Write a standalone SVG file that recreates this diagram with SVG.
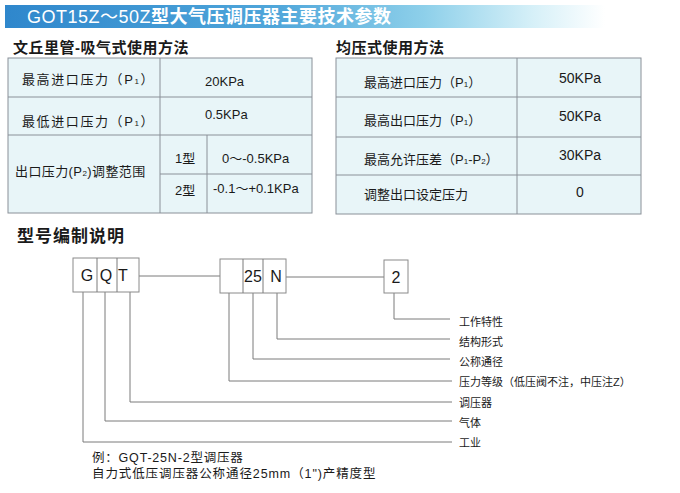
<svg xmlns="http://www.w3.org/2000/svg" width="680" height="493" viewBox="0 0 680 493">
<defs>
<linearGradient id="tb" x1="0" y1="0" x2="1" y2="0">
<stop offset="0" stop-color="#2f87cc"/>
<stop offset="0.45" stop-color="#4fa6da"/>
<stop offset="0.7" stop-color="#8ed0ea"/>
<stop offset="0.88" stop-color="#d6f0f8"/>
<stop offset="1" stop-color="#ffffff"/>
</linearGradient>
</defs>
<style>
text{font-family:"Liberation Sans","Noto Sans CJK SC",sans-serif;fill:#1a1a1a}
.h{font-weight:bold;font-size:15px;letter-spacing:0.5px}
.t{font-size:13px}
.v{font-size:14px}
.sub{font-size:8px}
.tbl{fill:#e8f5f8;stroke:#8a9098;stroke-width:1}
.ln{stroke:#8a9098;stroke-width:1;fill:none}
.box{fill:#ffffff;stroke:#8a8a8a;stroke-width:1}
.bx{font-size:16px;text-anchor:middle}
.lb{font-size:11px}
.c{stroke:#7a7a7a;stroke-width:1;fill:none}
</style>
<rect width="680" height="493" fill="#ffffff"/>
<g id="title">
<rect x="5" y="5" width="600" height="23" fill="url(#tb)"/>
<text x="27" y="23" style="font-size:18px;fill:#ffffff;letter-spacing:0.5px">GOT15Z～50Z<tspan style="font-weight:bold">型大气压调压器主要技术参数</tspan></text>
</g>
<g id="table-left">
<text class="h" x="13" y="53">文丘里管-吸气式使用方法</text>
<rect class="tbl" x="8" y="58" width="304" height="155"/>
<line class="ln" x1="160" y1="58" x2="160" y2="213"/>
<line class="ln" x1="8" y1="97" x2="312" y2="97"/>
<line class="ln" x1="8" y1="135" x2="312" y2="135"/>
<line class="ln" x1="207" y1="135" x2="207" y2="213"/>
<line class="ln" x1="160" y1="174" x2="312" y2="174"/>
<text class="t" x="22" y="84" style="letter-spacing:1.6px">最高进口压力（P<tspan class="sub">1</tspan>）</text>
<text class="t" x="205" y="86">20KPa</text>
<text class="t" x="22" y="126" style="letter-spacing:1.6px">最低进口压力（P<tspan class="sub">1</tspan>）</text>
<text class="t" x="205" y="119">0.5KPa</text>
<text class="t" x="15" y="176" style="letter-spacing:0.4px">出口压力(P<tspan class="sub">2</tspan>)调整范围</text>
<text class="t" x="175" y="163">1型</text>
<text class="t" x="222" y="163">0～-0.5KPa</text>
<text class="t" x="175" y="195">2型</text>
<text class="t" x="213" y="193">-0.1～+0.1KPa</text>
</g>
<g id="table-right">
<text class="h" x="336" y="53">均压式使用方法</text>
<rect class="tbl" x="336" y="58" width="305" height="156"/>
<line class="ln" x1="517" y1="58" x2="517" y2="214"/>
<line class="ln" x1="336" y1="97" x2="641" y2="97"/>
<line class="ln" x1="336" y1="137" x2="641" y2="137"/>
<line class="ln" x1="336" y1="175" x2="641" y2="175"/>
<text class="t" x="364" y="87">最高进口压力（P<tspan class="sub">1</tspan>）</text>
<text class="v" x="580" y="83" text-anchor="middle">50KPa</text>
<text class="t" x="364" y="125">最高出口压力（P<tspan class="sub">1</tspan>）</text>
<text class="v" x="580" y="121" text-anchor="middle">50KPa</text>
<text class="t" x="364" y="164">最高允许压差（P<tspan class="sub">1</tspan>-P<tspan class="sub">2</tspan>）</text>
<text class="v" x="580" y="160" text-anchor="middle">30KPa</text>
<text class="t" x="364" y="199">调整出口设定压力</text>
<text class="v" x="580" y="197" text-anchor="middle">0</text>
</g>
<g id="model-heading">
<text x="17" y="242" style="font-weight:bold;font-size:17px;letter-spacing:1px">型号编制说明</text>
</g>
<g id="connectors">
<line class="c" x1="139" y1="276" x2="220" y2="276"/>
<line class="c" x1="286" y1="277" x2="384" y2="277"/>
<polyline class="c" points="394,293 394,319 450,319"/>
<polyline class="c" points="277,293 277,339 450,339"/>
<polyline class="c" points="253,293 253,359 450,359"/>
<polyline class="c" points="229,293 229,381 452,381"/>
<polyline class="c" points="130,292 130,402 452,402"/>
<polyline class="c" points="105,292 105,421 452,421"/>
<polyline class="c" points="83,292 83,442 452,442"/>
</g>
<g id="box-gqt">
<rect class="box" x="73" y="258" width="66" height="34"/>
<line class="c" x1="97" y1="258" x2="97" y2="292"/>
<line class="c" x1="117" y1="258" x2="117" y2="292"/>
<text class="bx" x="87" y="281">G</text>
<text class="bx" x="106" y="281">Q</text>
<text class="bx" x="123" y="281">T</text>
</g>
<g id="box-25n">
<rect class="box" x="220" y="259" width="66" height="34"/>
<line class="c" x1="243" y1="259" x2="243" y2="293"/>
<line class="c" x1="263" y1="259" x2="263" y2="293"/>
<text class="bx" x="253" y="282">25</text>
<text class="bx" x="276" y="282">N</text>
</g>
<g id="box-2">
<rect class="box" x="384" y="260" width="24" height="33"/>
<text class="bx" x="396" y="283">2</text>
</g>
<g id="labels">
<text class="lb" x="459" y="326">工作特性</text>
<text class="lb" x="459" y="346">结构形式</text>
<text class="lb" x="459" y="366">公称通径</text>
<text class="lb" x="459" y="386">压力等级（低压阀不注，中压注Z）</text>
<text class="lb" x="459" y="407">调压器</text>
<text class="lb" x="459" y="427">气体</text>
<text class="lb" x="459" y="447">工业</text>
</g>
<g id="example">
<text x="92" y="462" style="font-size:12.5px;letter-spacing:0.8px">例：GQT-25N-2型调压器</text>
<text x="92" y="478" style="font-size:12.5px;letter-spacing:0.9px">自力式低压调压器公称通径25mm（1")产精度型</text>
</g>
</svg>
